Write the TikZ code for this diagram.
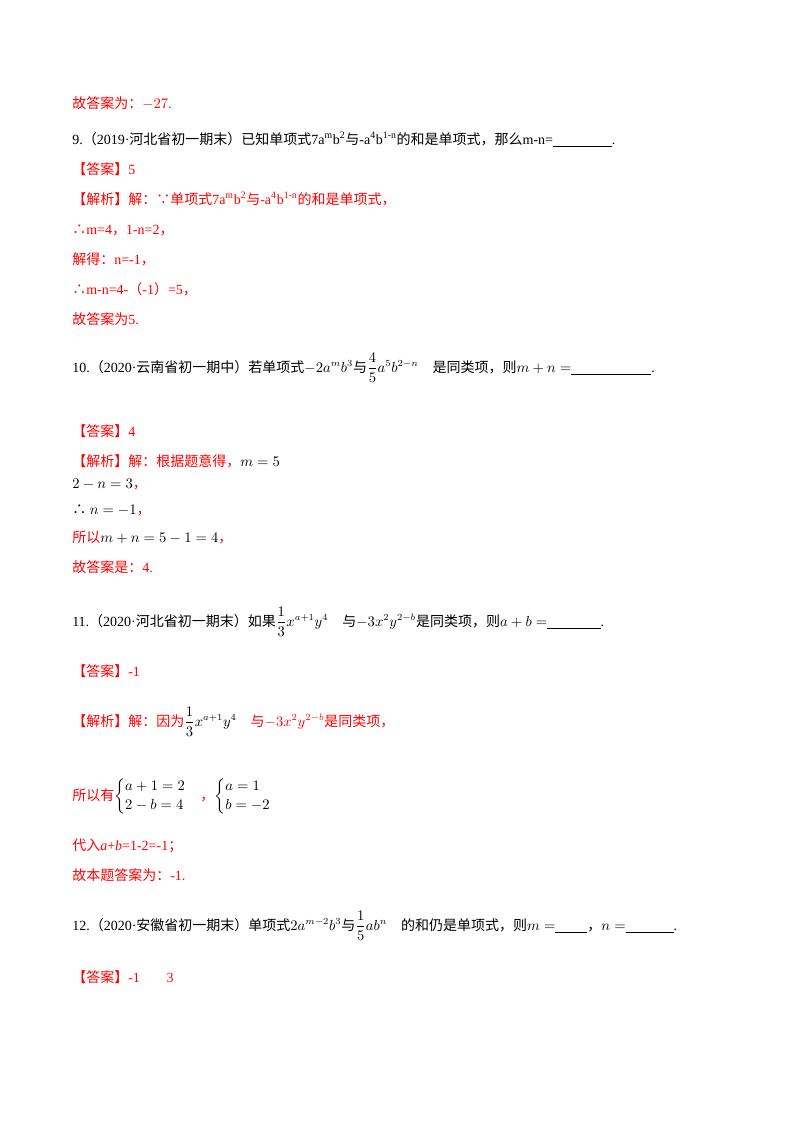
\documentclass[tikz,border=0pt]{standalone}
\usepackage{amsmath}
\usepackage{fontspec}
\setmainfont{Liberation Serif}
\newfontfamily\cjk{Noto Sans CJK SC}
\definecolor{rd}{RGB}{255,0,0}
\newcommand{\C}[1]{{\cjk #1}}
\newcommand{\bl}[1]{\underline{\hbox to #1{\hfil}}}
\begin{document}
\begin{tikzpicture}[x=0.75pt,y=-0.75pt,
  ln/.style={anchor=base west,inner sep=0pt,font=\fontsize{10.5pt}{12pt}\selectfont},
  red/.style={ln,text=rd}]
\useasboundingbox (0,0) rectangle (800,1132);
\node[red] (l1) at (72,108) {\C{故答案为：}$-27$.};
\node[ln] (l2) at (72,144) {9.\C{（}2019·\C{河北省初一期末）已知单项式}7a\textsuperscript{m}b\textsuperscript{2}\C{与}-a\textsuperscript{4}b\textsuperscript{1-n}\C{的和是单项式，那么}m-n=\bl{44pt}.};
\node[red] (l3) at (72,174) {\C{【答案】}5};
\node[red] (l4) at (72,204) {\C{【解析】解：∵单项式}7a\textsuperscript{m}b\textsuperscript{2}\C{与}-a\textsuperscript{4}b\textsuperscript{1-n}\C{的和是单项式，}};
\node[red] (l5) at (72,234) {\C{∴}m=4\C{，}1-n=2\C{，}};
\node[red] (l6) at (72,264) {\C{解得：}n=-1\C{，}};
\node[red] (l7) at (72,294) {\C{∴}m-n=4-\C{（}-1\C{）}=5\C{，}};
\node[red] (l8) at (72,324) {\C{故答案为}5.};
\node[ln] (l9) at (72,372) {10.\C{（}2020·\C{云南省初一期中）若单项式}$-2a^mb^3$\C{与}$\dfrac45a^5b^{2-n}$\quad\C{是同类项，则}$m+n=$\bl{60pt}.};
\node[red] (l10) at (72,436) {\C{【答案】}4};
\node[red] (l11) at (72,466) {\C{【解析】解：根据题意得，}\textcolor{black}{$m=5$}};
\node[red] (l12) at (72,488) {\textcolor{black}{$2-n=3$}\C{，}};
\node[red] (l13) at (72,514) {\textcolor{black}{\C{∴} $n=-1$}\C{，}};
\node[red] (l14) at (72,542) {\C{所以}\textcolor{black}{$m+n=5-1=4$}\C{，}};
\node[red] (l15) at (72,572) {\C{故答案是：}4.};
\node[ln] (l16) at (72,626) {11.\C{（}2020·\C{河北省初一期末）如果}$\dfrac13x^{a+1}y^4$\quad\C{与}$-3x^2y^{2-b}$\C{是同类项，则}$a+b=$\bl{40pt}.};
\node[red] (l17) at (72,676) {\C{【答案】}-1};
\node[red] (l18) at (72,726) {\C{【解析】解：因为}\textcolor{black}{$\dfrac13x^{a+1}y^4$}\quad\C{与}$-3x^2y^{2-b}$\C{是同类项，}};
\node[red] (l19) at (72,800) {\C{所以有}\textcolor{black}{$\begin{cases}a+1=2\\2-b=4\end{cases}$}\C{，}\textcolor{black}{$\begin{cases}a=1\\b=-2\end{cases}$}};
\node[red] (l20) at (72,850) {\C{代入}\textit{a}+\textit{b}=1-2=-1\C{；}};
\node[red] (l21) at (72,880) {\C{故本题答案为：}-1.};
\node[ln] (l22) at (72,930) {12.\C{（}2020·\C{安徽省初一期末）单项式}$2a^{m-2}b^3$\C{与}$\dfrac15ab^n$\quad\C{的和仍是单项式，则}$m=$\bl{24pt}\C{，}$n=$\bl{36pt}.};
\node[red] (l23) at (72,982) {\C{【答案】}-1\hspace{20pt}3};
\end{tikzpicture}
\end{document}
